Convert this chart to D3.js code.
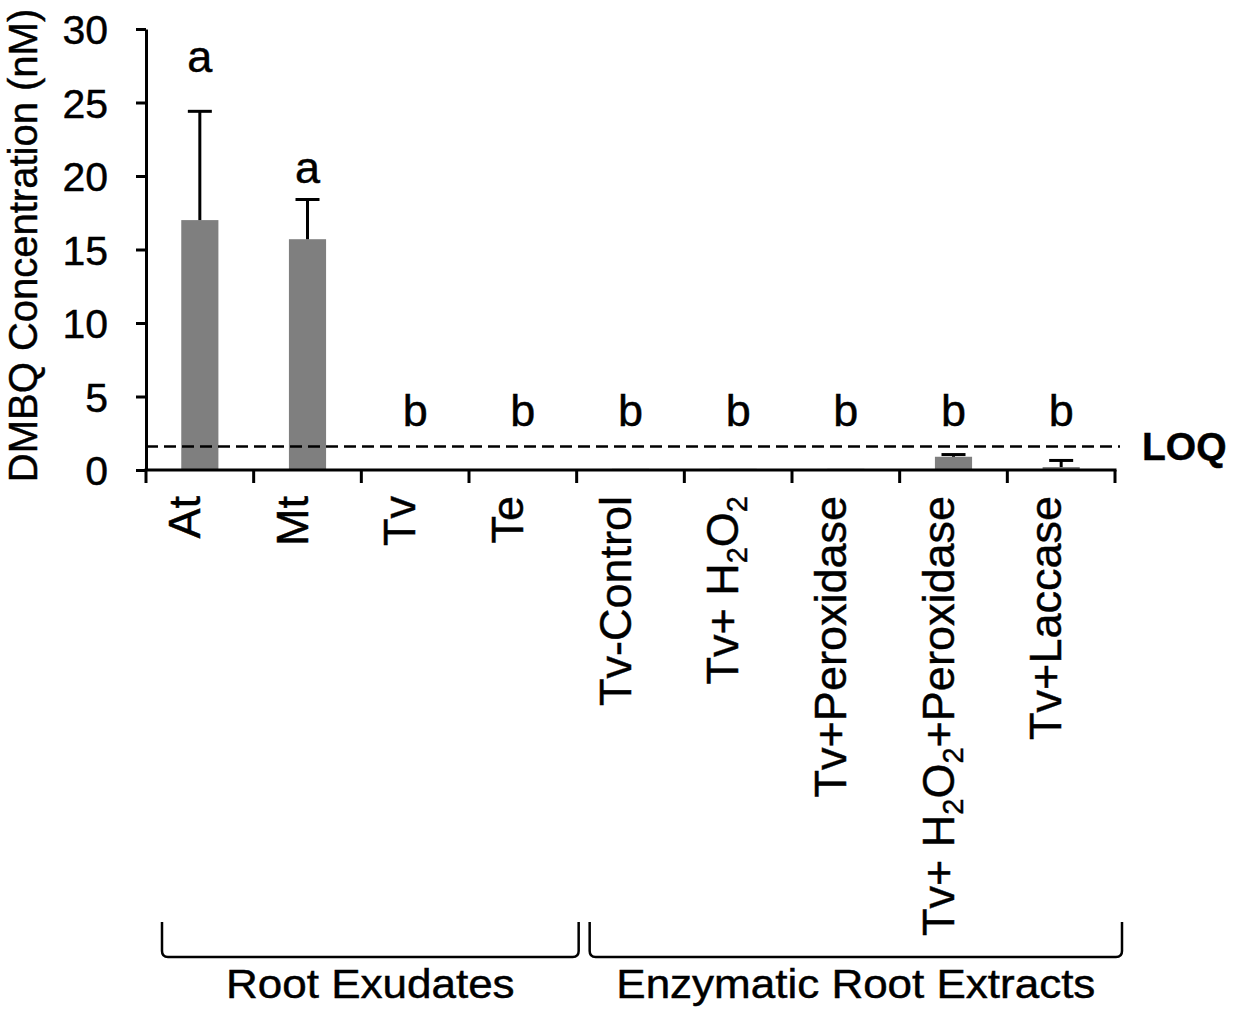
<!DOCTYPE html>
<html>
<head>
<meta charset="utf-8">
<script src="https://cdn.jsdelivr.net/npm/d3@7"></script>
<style>
  html, body { margin: 0; padding: 0; background: #fff; }
  svg { display: block; font-family: "Liberation Sans", Arial, sans-serif; }
  svg text { fill: #000; stroke: #000; stroke-width: 0.45px; }
</style>
</head>
<body>
<svg id="chart" width="1241" height="1019"></svg>
<script>
// ---------------- data ----------------
const categories = ["At", "Mt", "Tv", "Te", "Tv-Control", "Tv+ H2O2", "Tv+Peroxidase", "Tv+ H2O2+Peroxidase", "Tv+Laccase"];
const means      = [17.0, 15.7, 0, 0, 0.08, 0.08, 0.08, 0.9, 0.2];
const errors     = [7.4, 2.7, 0, 0, 0, 0, 0, 0.15, 0.45];
const letters    = ["a", "a", "b", "b", "b", "b", "b", "b", "b"];
const letterY    = [27.1, 19.5, 3.0, 3.0, 3.0, 3.0, 3.0, 3.0, 3.0];
const yTicks     = [0, 5, 10, 15, 20, 25, 30];
const loqValue   = 1.6;
const loqLabel   = "LOQ";
const yTitle     = "DMBQ Concentration (nM)";
const groups     = [
  { label: "Root Exudates", from: 0, to: 3 },
  { label: "Enzymatic Root Extracts", from: 4, to: 8 }
];

// ---------------- layout ----------------
const svg = d3.select("#chart");
const X0 = 146, X1 = 1115, Y0 = 470, Y1 = 29;
const barRatio = 0.655;

const x = d3.scaleBand().domain(categories).range([X0, X1])
  .paddingInner(barRatio).paddingOuter(barRatio / 2);
const y = d3.scaleLinear().domain([0, 30]).range([Y0, Y1]);
const step = x.step();
const center = c => x(c) + x.bandwidth() / 2;

// bars
svg.append("g").selectAll("rect")
  .data(categories)
  .join("rect")
  .attr("x", d => x(d))
  .attr("width", x.bandwidth())
  .attr("y", (d, i) => y(means[i]))
  .attr("height", (d, i) => y(0) - y(means[i]))
  .attr("fill", "#7f7f7f");

// LOQ dashed line
svg.append("line")
  .attr("x1", X0).attr("x2", X1 + 5)
  .attr("y1", y(loqValue)).attr("y2", y(loqValue))
  .attr("stroke", "#000").attr("stroke-width", 2.6)
  .attr("stroke-dasharray", "12,6");

svg.append("text")
  .attr("x", 1142).attr("y", y(loqValue))
  .attr("dy", "0.35em")
  .attr("font-size", 39).attr("font-weight", "bold")
  .text(loqLabel);

// error bars (upper only)
const eb = svg.append("g").attr("stroke", "#000").attr("stroke-width", 3);
categories.forEach((c, i) => {
  if (errors[i] <= 0) return;
  const cx = center(c);
  eb.append("line").attr("x1", cx).attr("x2", cx)
    .attr("y1", y(means[i])).attr("y2", y(means[i] + errors[i]));
  eb.append("line").attr("x1", cx - 12).attr("x2", cx + 12)
    .attr("y1", y(means[i] + errors[i])).attr("y2", y(means[i] + errors[i]));
});

// significance letters
svg.append("g").selectAll("text")
  .data(categories)
  .join("text")
  .attr("x", d => center(d))
  .attr("y", (d, i) => y(letterY[i]))
  .attr("text-anchor", "middle")
  .attr("font-size", 45)
  .text((d, i) => letters[i]);

// y axis
const yAxis = svg.append("g")
  .attr("transform", `translate(${X0},0)`)
  .call(d3.axisLeft(y).tickValues(yTicks).tickSize(10).tickSizeOuter(0).tickPadding(28));
yAxis.select(".domain").attr("stroke", "#000").attr("stroke-width", 3);
yAxis.selectAll(".tick line").attr("stroke", "#000").attr("stroke-width", 3);
yAxis.selectAll(".tick text")
  .attr("x", -38)
  .attr("dy", "0.36em")
  .attr("font-size", 41)
  .attr("font-family", "Liberation Sans, Arial, sans-serif");

// x axis line + boundary ticks
const xAxis = svg.append("g").attr("stroke", "#000").attr("stroke-width", 3);
xAxis.append("line").attr("x1", X0 - 1.5).attr("x2", X1 + 1.5).attr("y1", Y0).attr("y2", Y0);
const bounds = d3.range(categories.length + 1).map(i => X0 + i * step);
xAxis.selectAll(".xt").data(bounds).join("line")
  .attr("class", "xt")
  .attr("x1", d => d).attr("x2", d => d)
  .attr("y1", Y0).attr("y2", Y0 + 13);

// category labels (rotated, with subscripts)
const catG = svg.append("g");
categories.forEach(c => {
  const t = catG.append("text")
    .attr("transform", `translate(${center(c)},${Y0 + 26}) rotate(-90)`)
    .attr("text-anchor", "end")
    .attr("dy", "0.35em")
    .attr("font-size", 45);
  const parts = c.split(/(2)/);
  let shifted = false;
  parts.forEach(p => {
    if (p === "") return;
    if (p === "2") {
      t.append("tspan").attr("font-size", 29).attr("dy", shifted ? 0 : 9).text("2");
      shifted = true;
    } else {
      t.append("tspan").attr("dy", shifted ? -9 : 0).text(p);
      shifted = false;
    }
  });
});

// y title
svg.append("text")
  .attr("transform", `translate(37,${(Y0 + Y1) / 2 - 4}) rotate(-90)`)
  .attr("text-anchor", "middle")
  .attr("font-size", 40)
  .text(yTitle);

// group brackets
const bTop = 922, bBot = 957, r = 6;
const bracketRange = g => {
  const left = g.from === 0 ? bounds[0] + 16 : bounds[g.from] + 13;
  const right = g.to === categories.length - 1 ? bounds[g.to + 1] + 7 : bounds[g.to + 1] + 2;
  return [left, right];
};
groups.forEach(g => {
  const [l, rr] = bracketRange(g);
  const p = d3.path();
  p.moveTo(l, bTop);
  p.lineTo(l, bBot - r);
  p.quadraticCurveTo(l, bBot, l + r, bBot);
  p.lineTo(rr - r, bBot);
  p.quadraticCurveTo(rr, bBot, rr, bBot - r);
  p.lineTo(rr, bTop);
  svg.append("path").attr("d", p.toString())
    .attr("fill", "none").attr("stroke", "#000").attr("stroke-width", 2.5);
  svg.append("text")
    .attr("transform", `translate(${(l + rr) / 2},998) scale(1.1,1)`)
    .attr("text-anchor", "middle")
    .attr("font-size", 40)
    .text(g.label);
});
</script>
</body>
</html>
